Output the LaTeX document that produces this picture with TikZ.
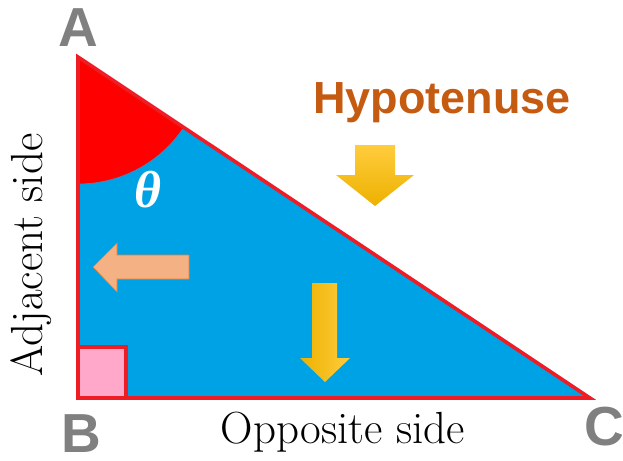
\documentclass[tikz,border=0pt]{standalone}
\usepackage{fontspec}
\newfontfamily\labelfont{Liberation Sans}
\newfontfamily\thetafont{Liberation Serif}
\usepackage{tikz}
\usetikzlibrary{calc}
\definecolor{TriBlue}{HTML}{00A2E6}
\definecolor{TriRed}{HTML}{EE1C25}
\definecolor{AngleRed}{HTML}{FF0000}
\definecolor{AngleEdge}{HTML}{5B7FB8}
\definecolor{CornerPink}{HTML}{FFA8C9}
\definecolor{HypBrown}{HTML}{C55A11}
\definecolor{VertexGray}{HTML}{808080}
\definecolor{GoldLight}{HTML}{FFCC3D}
\definecolor{GoldDark}{HTML}{EDB100}
\definecolor{ArrowSalmon}{HTML}{F4B183}
\definecolor{SalmonEdge}{HTML}{ED7D31}
\tikzset{
  vertex/.style={font=\labelfont\bfseries\fontsize{55}{55}\selectfont,text=VertexGray,inner sep=0pt},
  sidelabel/.style={font=\fontsize{45}{45}\selectfont,inner sep=0pt},
  hyplabel/.style={font=\labelfont\bfseries\fontsize{45}{45}\selectfont,text=HypBrown,inner sep=0pt},
  anglelabel/.style={font=\thetafont\bfseries\itshape\fontsize{52}{52}\selectfont,text=white,inner sep=0pt},
  triangle/.style={fill=TriBlue,draw=TriRed,line width=3.6pt},
  anglemark/.style={fill=AngleRed,draw=AngleEdge,line width=0.6pt},
  rightmark/.style={fill=CornerPink,draw=TriRed,line width=3.6pt},
  goldarrow/.style={top color=GoldLight,bottom color=GoldDark,draw=none},
  goldarrowside/.style={left color=GoldDark,right color=GoldLight,draw=none},
  salmonarrow/.style={fill=ArrowSalmon,draw=SalmonEdge,line width=0.6pt}
}

\begin{document}
\begin{tikzpicture}[x=1pt,y=-1pt]
  \useasboundingbox (0,0) rectangle (623,460);
  \coordinate (a) at (78,57);
  \coordinate (b) at (78,398);
  \coordinate (c) at (590,398);
  % triangle and angle marks
  \fill[TriBlue] (a) -- (b) -- (c) -- cycle;
  \filldraw[anglemark] (a) -- ++(90:127) arc[start angle=90,end angle=33.66,radius=127] -- cycle;
  \draw[triangle,fill=none] (a) -- (b) -- (c) -- cycle;
  \filldraw[rightmark] (b) rectangle (126,347);
  % block arrows
  \shade[goldarrow] (355,145) -- (395,145) -- (395,175) -- (414,175) -- (375,206)
    -- (336,175) -- (355,175) -- cycle;
  \shade[goldarrowside] (312,283) -- (337,283) -- (337,358) -- (350,358) -- (325,382)
    -- (300,358) -- (312,358) -- cycle;
  \filldraw[salmonarrow] (189,255) -- (189,279) -- (117,279) -- (117,292) -- (93,267)
    -- (117,243) -- (117,255) -- cycle;
  % labels
  \node[vertex] (la) at (78,28) {A};
  \node[vertex] (lb) at (81,434) {B};
  \node[vertex] (lc) at (604,427) {C};
  \node[anglelabel] (theta) at (148,190) {θ};
  \node[hyplabel,anchor=base] (hyp) at (442,113) {Hypotenuse};
  \node[sidelabel,anchor=base] (opp) at (343,443) {Opposite side};
  \node[sidelabel,rotate=90] (adj) at (31,255) {Adjacent side};
\end{tikzpicture}
\end{document}
